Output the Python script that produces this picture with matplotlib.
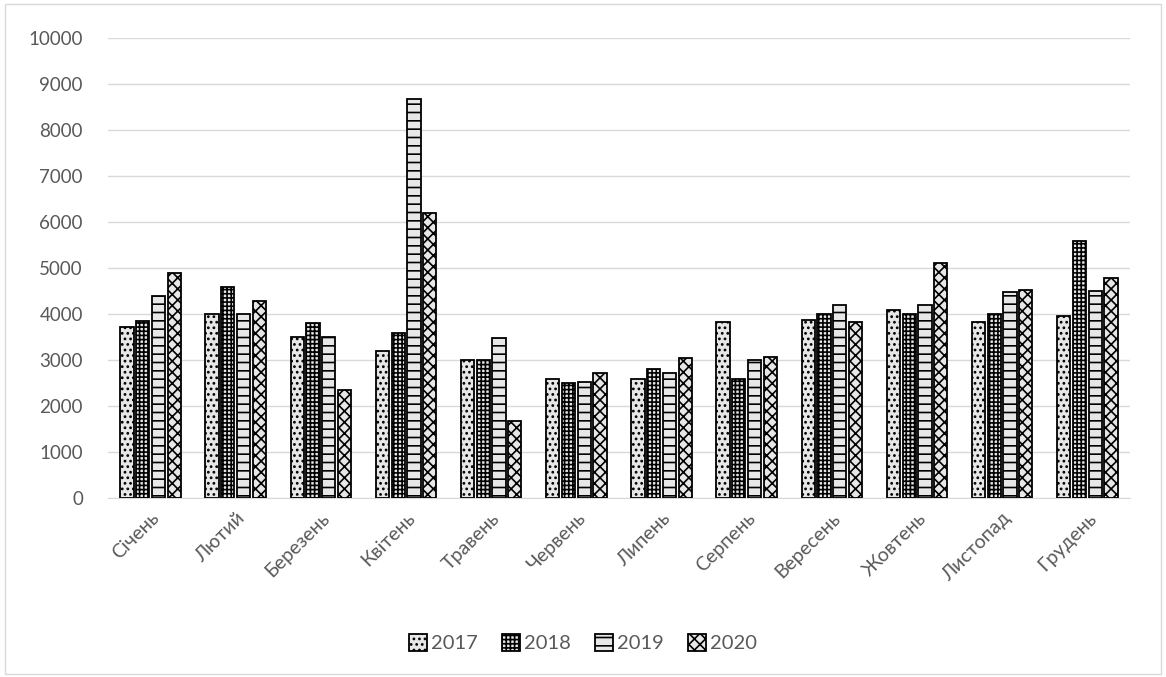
import matplotlib
matplotlib.use("Agg")
import matplotlib.pyplot as plt
import numpy as np

plt.rcParams['font.family'] = ['Lato', 'DejaVu Sans']
plt.rcParams['hatch.linewidth'] = 1.2

months = ["Січень", "Лютий", "Березень", "Квітень", "Травень", "Червень",
          "Липень", "Серпень", "Вересень", "Жовтень", "Листопад", "Грудень"]
years = ["2017", "2018", "2019", "2020"]
v2017 = [3720, 4000, 3500, 3200, 3000, 2600, 2600, 3820, 3870, 4100, 3820, 3960]
v2018 = [3850, 4600, 3800, 3600, 3000, 2500, 2800, 2600, 4000, 4000, 4000, 5580]
v2019 = [4400, 4000, 3500, 8680, 3480, 2520, 2730, 3000, 4200, 4190, 4480, 4500]
v2020 = [4900, 4280, 2350, 6200, 1670, 2720, 3050, 3070, 3830, 5120, 4520, 4780]
series = [v2017, v2018, v2019, v2020]
hatches = ['...', '++++', '--', 'xxx']

fig = plt.figure(figsize=(11.66, 6.77), dpi=100)
fig.patches.append(plt.Rectangle((0.004, 0.004), 0.992, 0.99, transform=fig.transFigure,
                                 fill=False, edgecolor='#d9d9d9', linewidth=1))
ax = fig.add_axes([0.0926, 0.264, 0.8765, 0.68])

x = np.arange(len(months))
step = 0.185
w = 0.155
for i, (s, h, y) in enumerate(zip(series, hatches, years)):
    ax.bar(x + (i - 1.5) * step, s, width=w, color='#e7e7e7', edgecolor='black',
           linewidth=1.3, hatch=h, label=y, zorder=3)

ax.set_xlim(-0.5, len(months) - 0.5)
ax.set_ylim(0, 10000)
ax.set_yticks(np.arange(0, 10001, 1000))
ax.grid(axis='y', color='#d9d9d9', linewidth=1, zorder=0)
for sp in ax.spines.values():
    sp.set_visible(False)
ax.spines['bottom'].set_visible(True)
ax.spines['bottom'].set_color('#d9d9d9')
ax.tick_params(axis='y', length=0, labelsize=13.5, colors='#595959', pad=18)
ax.tick_params(axis='x', length=0, labelsize=14, colors='#595959', pad=8)
ax.set_xticks(x)
ax.set_xticklabels(months, rotation=45, ha='right', rotation_mode='anchor')

fig.legend(loc='center', bbox_to_anchor=(0.5, 0.05), ncol=4, frameon=False,
           fontsize=14.5, labelcolor='#595959', handlelength=0.9, handleheight=0.9,
           handletextpad=0.2, columnspacing=1.2)

fig.savefig("out.png", dpi=100)
